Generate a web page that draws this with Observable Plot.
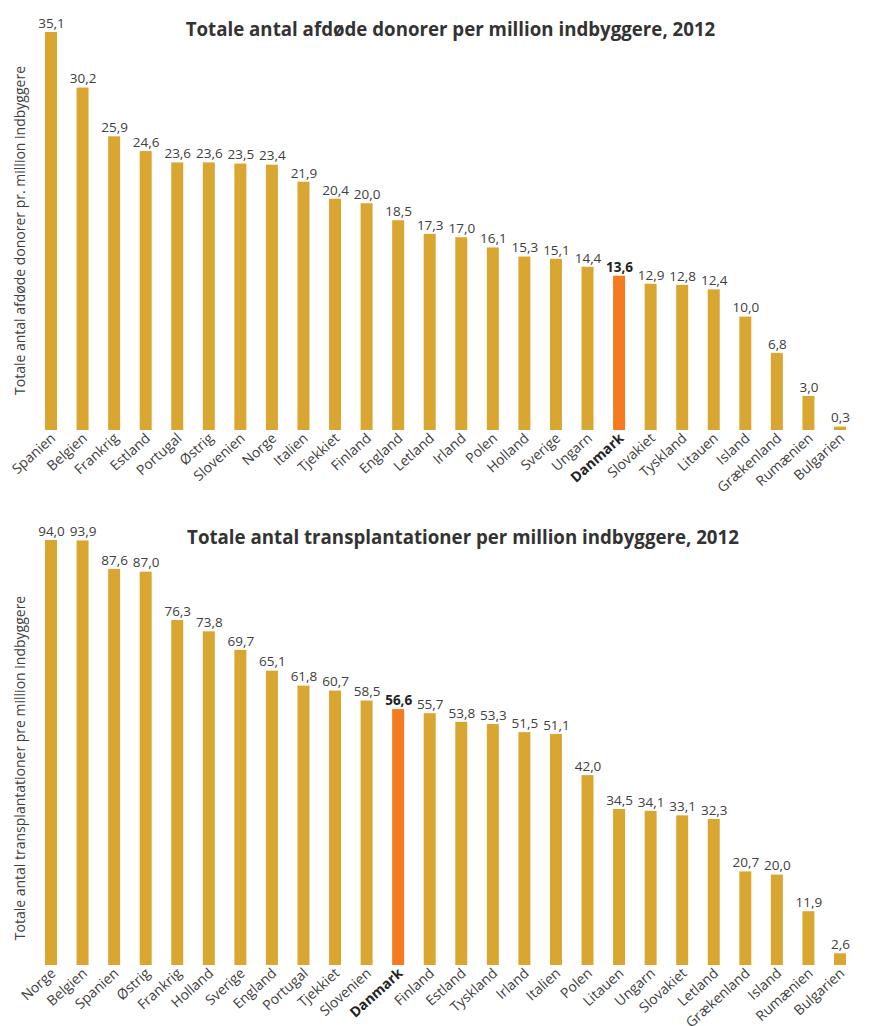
<!DOCTYPE html>
<html>
<head>
<meta charset="utf-8">
<script src="https://cdn.jsdelivr.net/npm/d3@7"></script>
<script src="https://cdn.jsdelivr.net/npm/@observablehq/plot@0.6"></script>
<style>
  html, body { margin: 0; padding: 0; background: #fff; }
  #chart svg { display: block; }
</style>
</head>
<body>
<div id="chart"></div>
<script>
// ---- Data: deceased donors per million inhabitants, 2012 ----
const donorTitle = "Totale antal afdøde donorer per million indbyggere, 2012";
const donorYLabel = "Totale antal afdøde donorer pr. million indbyggere";
const donorCountries = ["Spanien","Belgien","Frankrig","Estland","Portugal","Østrig","Slovenien","Norge","Italien","Tjekkiet","Finland","England","Letland","Irland","Polen","Holland","Sverige","Ungarn","Danmark","Slovakiet","Tyskland","Litauen","Island","Grækenland","Rumænien","Bulgarien"];
const donorValues = [35.1,30.2,25.9,24.6,23.6,23.6,23.5,23.4,21.9,20.4,20.0,18.5,17.3,17.0,16.1,15.3,15.1,14.4,13.6,12.9,12.8,12.4,10.0,6.8,3.0,0.3];

// ---- Data: transplantations per million inhabitants, 2012 ----
const transTitle = "Totale antal transplantationer per million indbyggere, 2012";
const transYLabel = "Totale antal transplantationer pre million indbyggere";
const transCountries = ["Norge","Belgien","Spanien","Østrig","Frankrig","Holland","Sverige","England","Portugal","Tjekkiet","Slovenien","Danmark","Finland","Estland","Tyskland","Irland","Italien","Polen","Litauen","Ungarn","Slovakiet","Letland","Grækenland","Island","Rumænien","Bulgarien"];
const transValues = [94.0,93.9,87.6,87.0,76.3,73.8,69.7,65.1,61.8,60.7,58.5,56.6,55.7,53.8,53.3,51.5,51.1,42.0,34.5,34.1,33.1,32.3,20.7,20.0,11.9,2.6];

const highlight = "Danmark";

const GOLD = "#DAA632";
const ORANGE = "#F47B20";
const TEXT = "#404040";
const FONT = "'Open Sans', sans-serif";

const fmt = v => v.toFixed(1).replace(".", ",");

function makeChart({countries, values, title, ylabel, marginTop, marginBottom, titleDx, titleDy, labelDy}) {
  const data = countries.map((c, i) => ({country: c, value: values[i]}));
  const isHi = d => d.country === highlight;
  const notHi = d => d.country !== highlight;
  return Plot.plot({
    width: 880,
    height: 513,
    marginTop,
    marginBottom,
    marginLeft: 35,
    marginRight: 24,
    style: {fontFamily: FONT, background: "#fff"},
    x: {type: "band", domain: countries, paddingInner: 0.62, paddingOuter: 0.317, round: false, axis: null},
    y: {domain: [0, d3.max(values)], axis: null},
    marks: [
      Plot.barY(data, {x: "country", y: "value", fill: d => isHi(d) ? ORANGE : GOLD}),
      Plot.text(data.filter(notHi), {x: "country", y: "value", text: d => fmt(d.value), dy: -9, fontSize: 13.5, fill: TEXT}),
      Plot.text(data.filter(isHi), {x: "country", y: "value", text: d => fmt(d.value), dy: -9, fontSize: 13.5, fontWeight: "bold", fill: "#222"}),
      Plot.text(data.filter(notHi), {x: "country", frameAnchor: "bottom", text: "country", rotate: -42, textAnchor: "end", dx: 5, dy: 9, fontSize: 14, fill: TEXT}),
      Plot.text(data.filter(isHi), {x: "country", frameAnchor: "bottom", text: "country", rotate: -42, textAnchor: "end", dx: 5, dy: 9, fontSize: 14, fontWeight: "bold", fill: "#222"}),
      Plot.text([title], {frameAnchor: "top", text: d => d, dx: titleDx, dy: titleDy, fontSize: 18.7, fontWeight: "bold", fill: "#333"}),
      Plot.text([ylabel], {frameAnchor: "left", textAnchor: "middle", text: d => d, rotate: -90, dx: -15, dy: labelDy, fontSize: 14, fill: TEXT})
    ]
  });
}

const root = document.getElementById("chart");
root.append(makeChart({
  countries: donorCountries, values: donorValues, title: donorTitle, ylabel: donorYLabel,
  marginTop: 32, marginBottom: 83, titleDx: 4.5, titleDy: -10, labelDy: -1
}));
root.append(makeChart({
  countries: transCountries, values: transValues, title: transTitle, ylabel: transYLabel,
  marginTop: 27, marginBottom: 61, titleDx: 17, titleDy: -10, labelDy: 15
}));
</script>
</body>
</html>
